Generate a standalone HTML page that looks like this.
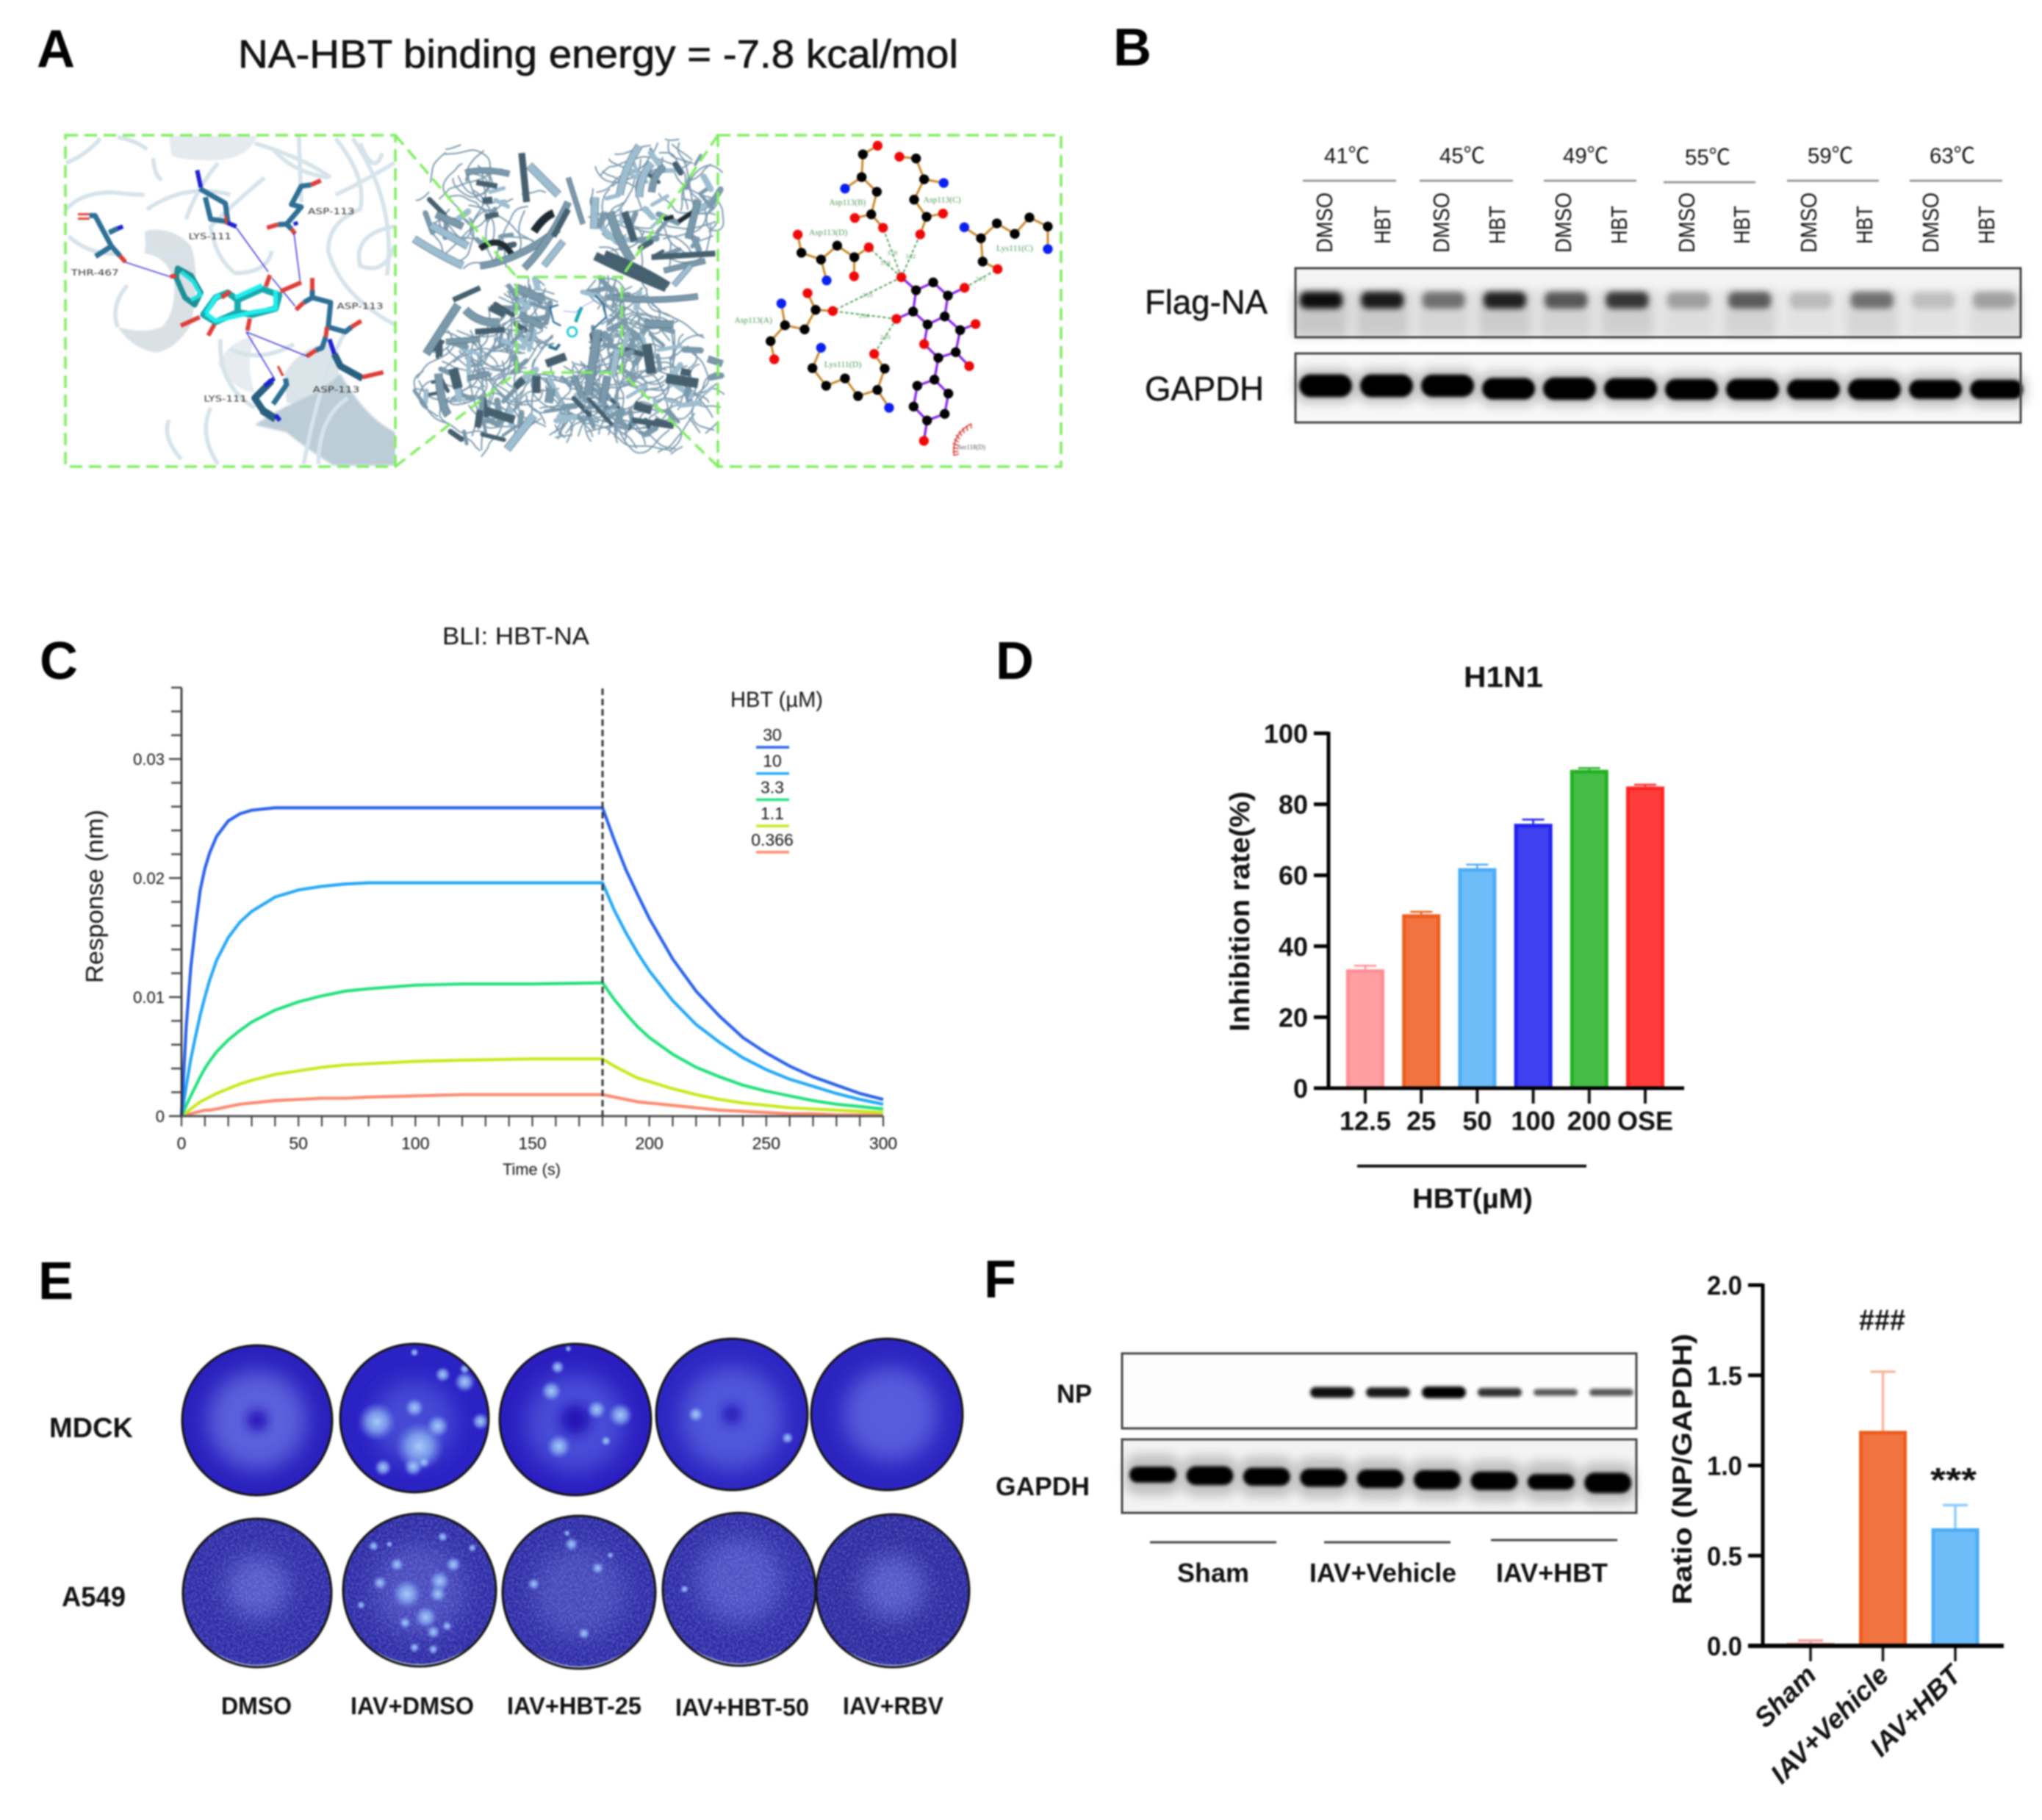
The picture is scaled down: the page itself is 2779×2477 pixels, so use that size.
<!DOCTYPE html>
<html lang="en">
<head>
<meta charset="utf-8">
<title>HBT neuraminidase figure</title>
<style>
html,body{margin:0;padding:0;background:#fff;width:2779px;height:2477px;overflow:hidden}
svg{display:block;filter:blur(1px)}
text{font-family:"Liberation Sans","Noto Sans CJK SC",sans-serif;fill:#111}
.letter{font-size:72px;font-weight:700;fill:#000}
.b{font-weight:700}
.lig{font-family:"Liberation Serif",serif;font-size:36px;fill:#4f9a58}
.dist{font-family:"Liberation Serif",serif;font-size:24px;fill:#5c9c64}
.res{font-family:"DejaVu Sans",sans-serif;font-size:34px;fill:#333}
</style>
</head>
<body>
<svg id="fig" xmlns="http://www.w3.org/2000/svg" width="2779" height="2477" viewBox="0 0 2779 2477">
<defs>
<filter id="b2" x="-30%" y="-60%" width="160%" height="220%"><feGaussianBlur stdDeviation="2"/></filter>
<filter id="b4" x="-30%" y="-80%" width="160%" height="260%"><feGaussianBlur stdDeviation="4"/></filter>
<filter id="b6" x="-30%" y="-80%" width="160%" height="260%"><feGaussianBlur stdDeviation="7"/></filter>
<filter id="b14" x="-40%" y="-40%" width="180%" height="180%"><feGaussianBlur stdDeviation="14"/></filter>
<filter id="noise" x="0" y="0" width="100%" height="100%"><feTurbulence type="fractalNoise" baseFrequency=".38" numOctaves="2" seed="3"/><feColorMatrix type="matrix" values="0 0 0 0 .55  0 0 0 0 .55  0 0 0 0 .95  0 0 0 1.6 -.62"/></filter>
<radialGradient id="spot"><stop offset="0" stop-color="#a8ccf8"/><stop offset=".5" stop-color="#86aaf0" stop-opacity=".8"/><stop offset="1" stop-color="#6e86e6" stop-opacity="0"/></radialGradient>
<clipPath id="leftClip"><rect x="89" y="184" width="449" height="451"/></clipPath>
</defs>

<g>
<text class="letter" x="50" y="91">A</text>
<text x="324" y="92" font-size="54" stroke="#111" stroke-width=".7" textLength="980" lengthAdjust="spacingAndGlyphs">NA-HBT binding energy = -7.8 kcal/mol</text>

<g id="leftInset" clip-path="url(#leftClip)">
<g transform="translate(80,175) scale(.33333)">
<path d="M450,30 H810 Q770,130 620,130 Q500,130 460,110Z" fill="#e4eaee" filter="url(#b2)"/>
<path d="M360,415 Q470,400 540,480 Q580,600 540,800 Q480,900 400,915 Q300,900 240,810 Q350,840 420,810 Q480,750 470,620 Q440,520 350,510 Z" fill="#dae1e5" filter="url(#b2)"/>
<path d="M920,1000 Q1000,880 1100,880 Q1170,1000 1130,1080 Q1000,1130 930,1120 Z" fill="#dbe4e9" filter="url(#b2)"/>
<path d="M650,960 Q700,860 800,850 Q760,960 800,1080 Q700,1060 650,960Z" fill="#e6ecef" filter="url(#b2)"/>
<path d="M800,1210 Q920,1130 1050,1080 Q1130,1020 1150,1000 Q1250,1180 1375,1240 V1375 H1120 Q1000,1300 930,1240Z" fill="#bccdd8" filter="url(#b4)"/>
<g fill="none" stroke="#d7e3eb" stroke-width="17">
<path d="M30,140 Q110,110 170,40"/><path d="M240,35 Q320,50 360,85"/><path d="M385,120 Q390,190 420,210"/><path d="M30,330 Q90,260 220,260 Q300,270 350,270"/><path d="M40,440 Q130,520 250,510"/><path d="M360,420 Q350,560 540,500"/><path d="M800,60 Q1000,120 1110,200"/><path d="M980,30 L990,300"/><path d="M1130,40 Q1260,200 1230,330 Q1100,380 1100,500 Q1150,680 1370,800"/><path d="M1370,140 Q1220,230 1130,270"/><path d="M1230,60 Q1290,200 1320,100"/><path d="M1370,400 Q1200,430 1230,560 Q1330,600 1370,480"/><path d="M840,200 Q720,300 620,400 Q640,530 720,590 Q850,590 870,500"/><path d="M360,330 Q520,220 700,270"/><path d="M650,140 Q560,250 520,370"/><path d="M1000,1370 Q1070,1000 1170,830"/><path d="M450,1190 Q420,1260 500,1350"/><path d="M620,1140 Q570,1250 650,1370"/><path d="M660,860 Q650,1050 800,1140"/><path d="M1060,1370 Q1060,1180 1180,1100"/><path d="M240,810 Q210,720 280,640"/><path d="M1200,40 Q1380,300 1340,600"/><path d="M880,90 Q960,180 1100,200"/><path d="M700,900 Q820,960 960,880"/>
</g>
<g fill="none" stroke="#2e6f95" stroke-width="21" stroke-linejoin="round">
<path d="M125,355 H148 L215,480 L150,522"/><path d="M205,425 L240,408"/><path d="M215,480 L250,520"/>
<path d="M575,245 L680,305 L690,380 L620,370 L598,280"/>
<path d="M1030,230 L990,235 L950,310 L990,320 L930,390 L895,392"/><path d="M930,390 L950,410"/>
<path d="M1035,660 V690 L1110,710 L1100,810 L1170,830 L1195,810"/><path d="M1035,690 L1000,710"/>
<path d="M1090,850 L1075,895 L1050,905"/><path d="M1125,920 L1150,970 L1240,1020" stroke-width="28" stroke="#28607f"/>
<path d="M925,1020 L930,1045 L875,1125"/><path d="M840,1160 L800,1100 L870,1030" stroke-width="28" stroke="#28607f"/><path d="M830,1150 L885,1185" stroke-width="32" stroke="#28607f"/>
</g>
<g fill="none" stroke="#dd3f3a" stroke-width="18">
<path d="M78,350 H125 M78,368 H125" stroke-width="9"/><path d="M250,520 L272,545"/><path d="M680,355 L685,392" stroke-width="10"/><path d="M1070,212 L1030,230"/><path d="M895,392 L850,405"/><path d="M950,410 L965,430"/><path d="M1035,610 V660"/><path d="M1000,710 L968,740"/><path d="M1195,810 L1235,785"/><path d="M1095,810 L1090,850"/><path d="M1050,905 L1012,930"/><path d="M1240,1015 L1325,995"/><path d="M895,970 L915,1010" stroke-width="10"/>
</g>
<g fill="none" stroke="#1f1fd2" stroke-width="18">
<path d="M565,170 L580,240"/><path d="M240,408 L262,400"/><path d="M690,385 L725,400"/><path d="M1105,860 L1125,920"/><path d="M880,1020 L840,1050"/><path d="M885,1170 L903,1192"/><path d="M965,380 L970,395"/>
</g>
<g fill="none" stroke="#3a30d8" stroke-width="4.5">
<path d="M270,545 L455,605"/><path d="M725,405 L855,585 M870,610 L965,725"/><path d="M960,425 L985,620"/><path d="M765,830 L1015,930"/><path d="M765,830 L880,1020"/>
</g>
<g fill="none" stroke-linejoin="round">
<path d="M485,570 L540,600 L580,670 L555,720 L515,690 L480,610Z" stroke="#1d8f95" stroke-width="22"/>
<path d="M500,585 L550,625 L580,680 L540,700" stroke="#22dede" stroke-width="16"/>
<path d="M590,760 L640,690 L690,670 L730,700 L730,750 L640,790Z" stroke="#18a9ac" stroke-width="26"/>
<path d="M730,700 L830,655 L900,680 L885,735 L790,760 L730,750Z" stroke="#18a9ac" stroke-width="26"/>
<path d="M600,755 L640,690 L660,680 M720,690 L830,640 M885,660 L885,735 L790,750 L640,785 L600,755" stroke="#22ecec" stroke-width="18"/>
<path d="M455,605 L480,600 M845,645 L862,598 M990,628 L905,665 M770,825 L780,775 M498,805 L575,770 M610,845 L635,800 M665,690 L700,665" stroke="#dd3f3a" stroke-width="18"/>
</g>
<text class="res" x="50" y="600" textLength="195" lengthAdjust="spacingAndGlyphs">THR-467</text>
<text class="res" x="530" y="452" textLength="175" lengthAdjust="spacingAndGlyphs">LYS-111</text>
<text class="res" x="1017" y="350" textLength="191" lengthAdjust="spacingAndGlyphs">ASP-113</text>
<text class="res" x="1135" y="737" textLength="190" lengthAdjust="spacingAndGlyphs">ASP-113</text>
<text class="res" x="1037" y="1077" textLength="191" lengthAdjust="spacingAndGlyphs">ASP-113</text>
<text class="res" x="592" y="1115" textLength="176" lengthAdjust="spacingAndGlyphs">LYS-111</text>
</g>
</g>

<g id="protein" transform="translate(540,175) scale(.33333)"></g>

<g id="ligplot" transform="translate(975,175) scale(.33333)">
<g fill="none" stroke="#4da058" stroke-width="6" stroke-dasharray="13 9">
<path d="M755,607 L622,485"/><path d="M755,607 L680,405"/><path d="M755,607 L832,432"/><path d="M755,607 L475,745"/><path d="M735,777 L475,745"/><path d="M735,777 L644,920"/><path d="M1013,650 L1148,574"/>
</g>
<g fill="none" stroke="#c8882c" stroke-width="9">
<path d="M658,70 L598,105 L593,198 L655,258 L632,350 L565,365 M632,350 L680,405 M593,198 L525,245"/>
<path d="M747,115 L815,122 L848,207 L807,290 L858,360 L925,347 M858,360 L832,432 M848,207 L928,222"/>
<path d="M332,433 L347,507 L427,535 L493,478 L563,525 L622,485 M563,525 L562,603 M427,535 L450,620"/>
<path d="M1012,403 L1080,448 L1145,387 L1218,430 L1278,363 L1353,400 L1353,492 M1080,448 L1087,543 L1148,574"/>
<path d="M265,714 L280,803 L360,820 L405,740 L372,672 M405,740 L475,745 M280,803 L221,868 L236,942"/>
<path d="M427,895 L392,978 L448,1050 L525,1020 L578,1092 L657,1067 L687,980 L644,920 M657,1067 L705,1140"/>
</g>
<g fill="none" stroke="#8a2be2" stroke-width="10">
<path d="M755,607 L815,660 L885,628 L945,682 L932,767 L862,800 L803,747 L815,660 M945,682 L1013,650 M803,747 L735,777 M932,767 L995,823 L1058,798 M995,823 L977,913 L1032,970 M977,913 L906,936 L848,880 L862,800 M906,936 L890,1025 L820,1050 L805,1135 L860,1192 L932,1165 L947,1082 L890,1025 M860,1192 L847,1275"/>
</g>
<g id="ligAtoms"></g>
<text class="lig" x="460" y="312" textLength="150" lengthAdjust="spacingAndGlyphs">Asp113(B)</text>
<text class="lig" x="845" y="302" textLength="153" lengthAdjust="spacingAndGlyphs">Asp113(C)</text>
<text class="lig" x="378" y="435" textLength="157" lengthAdjust="spacingAndGlyphs">Asp113(D)</text>
<text class="lig" x="1143" y="499" textLength="150" lengthAdjust="spacingAndGlyphs">Lys111(C)</text>
<text class="lig" x="73" y="794" textLength="155" lengthAdjust="spacingAndGlyphs">Asp113(A)</text>
<text class="lig" x="440" y="974" textLength="152" lengthAdjust="spacingAndGlyphs">Lys111(D)</text>
<text class="dist" x="697" y="516">3.28</text>
<text class="dist" x="772" y="530">3.22</text>
<text class="dist" x="668" y="556">3.04</text>
<text class="dist" x="596" y="688">3.10</text>
<text class="dist" x="582" y="772">2.84</text>
<text class="dist" x="668" y="860">2.93</text>
<text class="dist" x="1058" y="622">2.75</text>
<g fill="none" stroke="#d8413c" stroke-width="5">
<path d="M1040,1205 Q960,1250 970,1335"/>
<path d="M1040,1205 L1040,1225 M1022,1212 L1025,1235 M1005,1222 L1012,1244 M990,1235 L1002,1255 M978,1250 L994,1268 M970,1268 L990,1280 M965,1285 L988,1294 M965,1303 L988,1306 M965,1320 L988,1318 M968,1335 L990,1328"/>
</g>
<text x="985" y="1310" font-size="28" style="font-family:'Liberation Serif',serif;fill:#555" textLength="113" lengthAdjust="spacingAndGlyphs">Ser118(D)</text>
</g>

<g fill="none" stroke="#80ee60" stroke-width="3.5" stroke-dasharray="17 9">
<rect x="89" y="184" width="449" height="451"/>
<rect x="977" y="184" width="467" height="451"/>
<rect x="703" y="377" width="143" height="130"/>
<path d="M538,184 L703,377"/>
<path d="M538,635 L703,507"/>
<path d="M977,184 L846,377"/>
<path d="M977,635 L846,507"/>
</g>
</g>

<g id="panelB">
<text class="letter" x="1515" y="89">B</text>
<g fill="#222" font-size="30">
<text x="1802" y="222" textLength="62" lengthAdjust="spacingAndGlyphs">41℃</text>
<text x="1959" y="222" textLength="62" lengthAdjust="spacingAndGlyphs">45℃</text>
<text x="2127" y="222" textLength="62" lengthAdjust="spacingAndGlyphs">49℃</text>
<text x="2293" y="224" textLength="62" lengthAdjust="spacingAndGlyphs">55℃</text>
<text x="2460" y="222" textLength="62" lengthAdjust="spacingAndGlyphs">59℃</text>
<text x="2626" y="222" textLength="62" lengthAdjust="spacingAndGlyphs">63℃</text>
</g>
<g stroke="#999" stroke-width="3">
<path d="M1773,246 H1900 M1932,246 H2059 M2101,246 H2227 M2264,248 H2389 M2432,246 H2557 M2599,246 H2725"/>
</g>
<g id="bLaneLabels"></g>
<text x="1558" y="427" font-size="46" stroke="#111" stroke-width=".5" textLength="167" lengthAdjust="spacingAndGlyphs">Flag-NA</text>
<text x="1558" y="545" font-size="46" stroke="#111" stroke-width=".5" textLength="162" lengthAdjust="spacingAndGlyphs">GAPDH</text>
<rect x="1763" y="365" width="987" height="94" fill="#f4f4f4"/>
<g id="flagBands"></g>
<rect x="1763" y="365" width="987" height="94" fill="none" stroke="#444" stroke-width="3"/>
<rect x="1763" y="481" width="987" height="94" fill="#f7f7f7"/>
<g id="gapdhBandsB"></g>
<rect x="1763" y="481" width="987" height="94" fill="none" stroke="#444" stroke-width="3"/>
</g>

<g id="panelC">
<text class="letter" x="54" y="924">C</text>
<text x="602" y="877" font-size="33" textLength="200" lengthAdjust="spacingAndGlyphs">BLI: HBT-NA</text>
<text transform="translate(140,1338) rotate(-90)" font-size="33" textLength="236" lengthAdjust="spacingAndGlyphs" fill="#222">Response (nm)</text>
<text x="684" y="1599" font-size="22" textLength="79" lengthAdjust="spacingAndGlyphs">Time (s)</text>
<text x="994" y="962" font-size="30" textLength="126" lengthAdjust="spacingAndGlyphs">HBT (µM)</text>
</g>

<g id="panelD">
<text class="letter" x="1355" y="924">D</text>
<text class="b" x="1992" y="935" font-size="40" textLength="108" lengthAdjust="spacingAndGlyphs">H1N1</text>
<text class="b" transform="translate(1700,1404) rotate(-90)" font-size="38" textLength="327" lengthAdjust="spacingAndGlyphs">Inhibition rate(%)</text>
<path d="M1847,1587 H2159" stroke="#111" stroke-width="4"/>
<text class="b" x="1922" y="1644" font-size="38" textLength="164" lengthAdjust="spacingAndGlyphs">HBT(µM)</text>
</g>

<g id="panelE">
<text class="letter" x="52" y="1768">E</text>
<text class="b" x="67" y="1956" font-size="38" textLength="114" lengthAdjust="spacingAndGlyphs">MDCK</text>
<text class="b" x="84" y="2186" font-size="38" textLength="87" lengthAdjust="spacingAndGlyphs">A549</text>
<text class="b" x="301" y="2333" font-size="33" textLength="96" lengthAdjust="spacingAndGlyphs">DMSO</text>
<text class="b" x="477" y="2333" font-size="33" textLength="168" lengthAdjust="spacingAndGlyphs">IAV+DMSO</text>
<text class="b" x="690" y="2333" font-size="33" textLength="183" lengthAdjust="spacingAndGlyphs">IAV+HBT-25</text>
<text class="b" x="919" y="2335" font-size="33" textLength="182" lengthAdjust="spacingAndGlyphs">IAV+HBT-50</text>
<text class="b" x="1147" y="2333" font-size="33" textLength="137" lengthAdjust="spacingAndGlyphs">IAV+RBV</text>
<g id="plates"></g>
</g>

<g id="panelF">
<text class="letter" x="1339" y="1766">F</text>
<text class="b" x="1438" y="1909" font-size="35" textLength="48" lengthAdjust="spacingAndGlyphs">NP</text>
<text class="b" x="1355" y="2035" font-size="35" textLength="128" lengthAdjust="spacingAndGlyphs">GAPDH</text>
<rect x="1527" y="1842" width="700" height="102" fill="#fdfdfd"/>
<g id="npBands"></g>
<rect x="1527" y="1842" width="700" height="102" fill="none" stroke="#444" stroke-width="3"/>
<rect x="1527" y="1959" width="700" height="100" fill="#f3f3f3"/>
<g id="gapdhBandsF"></g>
<rect x="1527" y="1959" width="700" height="100" fill="none" stroke="#444" stroke-width="3"/>
<g stroke="#444" stroke-width="3"><path d="M1565,2099 H1737 M1802,2099 H1974 M2029,2096 H2201"/></g>
<text class="b" x="1602" y="2153" font-size="36" textLength="98" lengthAdjust="spacingAndGlyphs">Sham</text>
<text class="b" x="1782" y="2153" font-size="36" textLength="200" lengthAdjust="spacingAndGlyphs">IAV+Vehicle</text>
<text class="b" x="2036" y="2153" font-size="36" textLength="152" lengthAdjust="spacingAndGlyphs">IAV+HBT</text>
<text class="b" transform="translate(2302,2184) rotate(-90)" font-size="37" textLength="369" lengthAdjust="spacingAndGlyphs">Ratio (NP/GAPDH)</text>
<text class="b" x="2530" y="1810" font-size="40" textLength="63" lengthAdjust="spacingAndGlyphs">###</text>
<text class="b" x="2627" y="2030" font-size="46" textLength="63" lengthAdjust="spacingAndGlyphs">***</text>
</g>
</svg>

<script>
/* ---------- Panel C data ---------- */
const cTimes=[0,2,4,6,8,10,12,15,20,25,30,40,50,60,70,80,100,120,150,180,185,190,195,200,210,220,230,240,250,260,270,280,290,300];
const cSeries30=[0,.0075,.0125,.016,.019,.0208,.0221,.0235,.0248,.0254,.0257,.0259,.0259,.0259,.0259,.0259,.0259,.0259,.0259,.0259,.0232,.0207,.0186,.0166,.0132,.0105,.0084,.0066,.0053,.0042,.0033,.0026,.0019,.0014];
const cSeries10=[0,.0025,.0048,.0067,.0085,.0100,.0114,.0131,.0150,.0163,.0172,.0184,.0190,.0193,.0195,.0196,.0196,.0196,.0196,.0196,.0173,.0154,.0137,.0122,.0097,.0077,.0062,.0049,.0039,.0031,.0025,.0019,.0014,.0010];
const cSeries33=[0,.0009,.0017,.0025,.0033,.0040,.0046,.0054,.0064,.0072,.0079,.0089,.0096,.0101,.0105,.0107,.0110,.0111,.0111,.0112,.0098,.0086,.0075,.0066,.0052,.0041,.0033,.0026,.0021,.0017,.0013,.0010,.0008,.0006];
const cSeries11=[0,.0003,.0006,.0009,.0012,.0014,.0016,.0019,.0023,.0027,.0030,.0035,.0038,.0041,.0043,.0044,.0046,.0047,.0048,.0048,.0042,.0037,.0032,.0029,.0023,.0018,.0014,.0011,.0009,.0007,.0006,.0005,.0004,.0003];
const cSeries0366=[0,.0001,.0002,.0003,.0004,.0005,.0005,.0006,.0008,.0010,.0011,.0013,.0014,.0015,.0015,.0016,.0017,.0018,.0018,.0018,.0016,.0014,.0012,.0011,.0009,.0007,.0005,.0004,.0003,.0002,.0002,.0001,.0001,.0001];
const cLegendLabels=['30','10','3.3','1.1','0.366'];
const cYMajor=[0,.01,.02,.03];
const cYMajorLabels=['0','0.01','0.02','0.03'];
const cXMajor=[0,50,100,150,200,250,300];
const cAssocEnd=[180];

/* ---------- Panel D data ---------- */
const dCategories=['12.5','25','50','100','200','OSE'];
const dValues=[33.5,49,62,74.5,89.7,85];
const dErrors=[1,.7,1,1.2,.5,.5];
const dTicks=[0,20,40,60,80,100];

/* ---------- Panel F data ---------- */
const fCategories=['Sham','IAV+Vehicle','IAV+HBT'];
const fValues=[.015,1.19,.65];
const fErrors=[.015,.33,.13];
const fTicks=[0,.5,1,1.5,2];
const fTickLabels=['0.0','0.5','1.0','1.5','2.0'];

/* ---------- Blot band intensities ---------- */
const flagIntensity=[.98,.92,.5,.88,.62,.78,.3,.6,.18,.5,.16,.28];
const gapdhBIntensity=[1,1,.98,.94,.98,.92,.92,.92,.88,.92,.84,.84];
const npIntensity=[.92,.85,1,.72,.5,.52];
const gapdhFIntensity=[.78,.92,.88,.88,.9,.94,.9,.76,1];

const SVGNS='http://www.w3.org/2000/svg';
function mark(parent,tag,name,attrs){
  const node=document.createElementNS(SVGNS,tag);
  for(const k in attrs){node.setAttribute(k,attrs[k]);}
  
  
  parent.appendChild(node);
  return node;
}
function label(parent,name,str,attrs){
  const t=mark(parent,'text',name,attrs);
  t.textContent=str;
  return t;
}
const $=id=>document.getElementById(id);

/* ---------- Chart C ---------- */
(function(){
  const p=$('panelC');
  const xC=t=>247+t*(1202-247)/300;
  const yC=v=>1519-v*16200;
  const colors=['#2a62e8','#25a8f5','#22e07c','#c6ea1e','#fb8a6e'];
  const series=[cSeries30,cSeries10,cSeries33,cSeries11,cSeries0366];
  const names=['curve-30-um','curve-10-um','curve-3-3-um','curve-1-1-um','curve-0-366-um'];
  for(let i=4;i>=0;i--){
    const pts=cTimes.map((t,j)=>xC(t).toFixed(1)+','+yC(series[i][j]).toFixed(1)).join(' ');
    mark(p,'polyline',names[i],{points:pts,fill:'none',stroke:colors[i],'stroke-width':4.2,'stroke-linejoin':'round'});
  }
  mark(p,'line','y-axis',{x1:xC(0),x2:xC(0),y1:yC(.036),y2:yC(0),stroke:'#222','stroke-width':2.5});
  mark(p,'line','x-axis',{x1:xC(0),x2:xC(300),y1:yC(0),y2:yC(0),stroke:'#555','stroke-width':3});
  for(let k=0;k<=18;k++){
    const v=k*.002;
    mark(p,'line','y-tick',{x1:xC(0)-(k%5===0?17:14),x2:xC(0),y1:yC(v),y2:yC(v),stroke:'#444','stroke-width':2.5});
  }
  for(let t=0;t<=300;t+=10){
    mark(p,'line','x-tick',{x1:xC(t),x2:xC(t),y1:yC(0),y2:yC(0)+14,stroke:'#333','stroke-width':2});
  }
  cYMajor.forEach((v,i)=>{
    label(p,'y-tick-label',cYMajorLabels[i],{x:xC(0)-23,y:yC(v)+8,'font-size':22,'text-anchor':'end',fill:'#222'});
  });
  cXMajor.forEach(t=>{
    label(p,'x-tick-label',String(t),{x:xC(t),y:1564,'font-size':23,'text-anchor':'middle',fill:'#222'});
  });
  cAssocEnd.forEach(t=>{
    mark(p,'line','association-end-line',{x1:xC(t),x2:xC(t),y1:937,y2:yC(0),stroke:'#333','stroke-width':3,'stroke-dasharray':'9 5'});
  });
  cLegendLabels.forEach((s,i)=>{
    const y=1017+i*35.7;
    label(p,'legend-label',s,{x:1051,y:y-9,'font-size':23,'text-anchor':'middle',fill:'#222'});
    mark(p,'line','legend-swatch',{x1:1029,x2:1074,y1:y,y2:y,stroke:colors[i],'stroke-width':3.5});
  });
})();

/* ---------- Chart D ---------- */
(function(){
  const p=$('panelD');
  const xD=i=>1858+i*76.2;
  const yD=v=>1481-v*4.83;
  const fills=['#ff9ea3','#f07340','#6ebdf9','#4040f0','#46bd46','#ff3c3c'];
  const strokes=['#ff8e95','#ee5c1e','#4dadf5','#2222ee','#22b022','#ff2424'];
  const barW=47;
  dValues.forEach((v,i)=>{
    mark(p,'line','error-bar',{x1:xD(i),x2:xD(i),y1:yD(v),y2:yD(v+dErrors[i]),stroke:strokes[i],'stroke-width':2.5});
    mark(p,'line','error-cap',{x1:xD(i)-15,x2:xD(i)+15,y1:yD(v+dErrors[i]),y2:yD(v+dErrors[i]),stroke:strokes[i],'stroke-width':2.5});
    mark(p,'rect','bar-'+dCategories[i],{x:xD(i)-barW/2,y:yD(v)+2.5,width:barW,height:yD(0)-yD(v)-2.5,fill:fills[i],stroke:strokes[i],'stroke-width':5});
    mark(p,'line','x-tick',{x1:xD(i),x2:xD(i),y1:yD(0),y2:yD(0)+21,stroke:'#111','stroke-width':4});
    label(p,'x-tick-label',dCategories[i],{x:xD(i),y:1538,'font-size':36,'font-weight':700,'text-anchor':'middle'});
  });
  mark(p,'line','y-axis',{x1:1808,x2:1808,y1:yD(100)-2,y2:yD(0),stroke:'#000','stroke-width':5});
  mark(p,'line','x-axis',{x1:1788,x2:2292,y1:yD(0),y2:yD(0),stroke:'#000','stroke-width':5});
  dTicks.forEach(v=>{
    mark(p,'line','y-tick',{x1:1788,x2:1808,y1:yD(v),y2:yD(v),stroke:'#000','stroke-width':5});
    label(p,'y-tick-label',String(v),{x:1780,y:yD(v)+13,'font-size':36,'font-weight':700,'text-anchor':'end'});
  });
})();

/* ---------- Chart F ---------- */
(function(){
  const p=$('panelF');
  const xF=i=>2464+i*98.5;
  const yF=v=>2240-v*245.5;
  const fills=['#f4a5a5','#f07340','#6ebdf9'];
  const strokes=['#f09090','#ee5c1e','#4dadf5'];
  const errs=['#f4a0a0','#f8b79c','#8ccbfb'];
  const barW=60;
  fValues.forEach((v,i)=>{
    mark(p,'line','error-bar',{x1:xF(i),x2:xF(i),y1:yF(v),y2:yF(v+fErrors[i]),stroke:errs[i],'stroke-width':3.5});
    mark(p,'line','error-cap',{x1:xF(i)-17,x2:xF(i)+17,y1:yF(v+fErrors[i]),y2:yF(v+fErrors[i]),stroke:errs[i],'stroke-width':3.5});
    mark(p,'rect','bar-'+fCategories[i],{x:xF(i)-barW/2,y:yF(v)+2,width:barW,height:Math.max(yF(0)-yF(v)-2,1),fill:fills[i],stroke:strokes[i],'stroke-width':5});
    mark(p,'line','x-tick',{x1:xF(i),x2:xF(i),y1:yF(0),y2:yF(0)+21,stroke:'#111','stroke-width':3.5});
    label(p,'x-tick-label',fCategories[i],{transform:'translate('+(xF(i)+10)+',2282) rotate(-45)','font-size':37,'font-weight':700,'font-style':'italic','text-anchor':'end'});
  });
  mark(p,'line','y-axis',{x1:2399,x2:2399,y1:yF(2)-2,y2:yF(0),stroke:'#000','stroke-width':5});
  mark(p,'line','x-axis',{x1:2379,x2:2727,y1:yF(0),y2:yF(0),stroke:'#000','stroke-width':6});
  fTicks.forEach((v,i)=>{
    mark(p,'line','y-tick',{x1:2379,x2:2399,y1:yF(v),y2:yF(v),stroke:'#000','stroke-width':5});
    label(p,'y-tick-label',fTickLabels[i],{x:2371,y:yF(v)+13,'font-size':36,'font-weight':700,'text-anchor':'end',textLength:48,lengthAdjust:'spacingAndGlyphs'});
  });
})();

/* ---------- Blots ---------- */
(function(){
  /* panel B lane labels */
  const g=$('bLaneLabels');
  const dmsoX=[1799,1958,2124,2292,2458,2624];
  const hbtX=[1878,2034,2200,2367,2534,2700];
  dmsoX.forEach(x=>{
    label(g,'lane-label-dmso','DMSO',{transform:'translate('+(x+14)+',344) rotate(-90)','font-size':31,textLength:82,lengthAdjust:'spacingAndGlyphs',fill:'#444'});
  });
  hbtX.forEach(x=>{
    label(g,'lane-label-hbt','HBT',{transform:'translate('+(x+14)+',332) rotate(-90)','font-size':31,textLength:52,lengthAdjust:'spacingAndGlyphs',fill:'#444'});
  });

  const flag=$('flagBands');
  const laneB=i=>1798+i*83.3;
  flagIntensity.forEach((v,i)=>{
    const x=laneB(i);
    mark(flag,'rect','flag-smear',{x:x-38,y:395,width:76,height:64,fill:'#000',opacity:(.05+v*.13).toFixed(2),filter:'url(#b6)'});
    mark(flag,'rect','flag-band',{x:x-29,y:397,width:58,height:23,rx:9,fill:'#000',opacity:(v*.95).toFixed(2),filter:'url(#b4)'});
  });
  const gB=$('gapdhBandsB');
  gapdhBIntensity.forEach((v,i)=>{
    const x=1804+i*83;
    const cy=525+(i<3?0:i<6?4:5);
    mark(gB,'rect','gapdh-halo',{x:x-42,y:cy-24,width:84,height:48,rx:18,fill:'#000',opacity:.2,filter:'url(#b6)'});
    const h=31*v;
    mark(gB,'rect','gapdh-band',{x:x-36,y:cy-h/2,width:72,height:h,rx:h/2,fill:'#000',filter:'url(#b2)'});
  });
  const np=$('npBands');
  const laneNP=i=>1813+i*76;
  npIntensity.forEach((v,i)=>{
    const h=7+9*v*v;
    mark(np,'rect','np-band',{x:laneNP(i)-30,y:1895-h/2,width:60,height:h,rx:h/2,fill:'#000',opacity:(.3+.7*v).toFixed(2),filter:'url(#b2)'});
  });
  const gF=$('gapdhBandsF');
  const laneF=i=>1569+i*77.4;
  gapdhFIntensity.forEach((v,i)=>{
    const x=laneF(i);
    const cy=2007+i*1.4;
    mark(gF,'rect','gapdh-halo',{x:x-38,y:cy-28,width:76,height:56,rx:18,fill:'#000',opacity:.2,filter:'url(#b6)'});
    const h=28*v;
    mark(gF,'rect','gapdh-band',{x:x-32,y:cy-h/2,width:64,height:h,rx:h/2,fill:'#000',filter:'url(#b2)'});
  });
})();

/* ---------- LigPlot atoms ---------- */
(function(){
  const g=$('ligAtoms');
  const black=[[598,105],[593,198],[655,258],[632,350],[815,122],[848,207],[807,290],[858,360],[347,507],[427,535],[493,478],[563,525],[1080,448],[1145,387],[1218,430],[1278,363],[1353,400],[1087,543],[280,803],[360,820],[405,740],[221,868],[392,978],[448,1050],[525,1020],[578,1092],[657,1067],[687,980],[815,660],[885,628],[945,682],[932,767],[862,800],[803,747],[995,823],[977,913],[906,936],[890,1025],[820,1050],[805,1135],[860,1192],[932,1165],[947,1082]];
  const red=[[658,70],[565,365],[680,405],[747,115],[925,347],[832,432],[332,433],[622,485],[562,603],[1148,574],[372,672],[475,745],[236,942],[644,920],[755,607],[1013,650],[735,777],[1058,798],[1032,970],[848,880],[847,1275]];
  const blue=[[525,245],[928,222],[450,620],[1012,403],[1353,492],[265,714],[427,895],[705,1140]];
  black.forEach(a=>{mark(g,'circle','carbon-atom',{cx:a[0],cy:a[1],r:20,fill:'#000'});});
  red.forEach(a=>{mark(g,'circle','oxygen-atom',{cx:a[0],cy:a[1],r:20,fill:'#ee0808'});});
  blue.forEach(a=>{mark(g,'circle','nitrogen-atom',{cx:a[0],cy:a[1],r:20,fill:'#0a20f0'});});
})();

/* ---------- Protein cartoon (decorative ribbon illustration) ---------- */
(function(){
  const g=$('protein');
  let seed=424242;
  const rnd=()=>{seed=(seed*1103515245+12345)&0x7fffffff;return seed/0x7fffffff;};
  const lobes=[[340,310,290],[1060,300,300],[320,1060,280],[1060,1050,300],[540,760,170],[900,760,180],[730,1120,190]];
  const ok=(x,y)=>{
    if(Math.hypot(x-730,y-770)<95)return false;
    if(x<45||x>1370||y<30||y>1375)return false;
    if(Math.abs(x-745)<40&&(y<250||y>1290))return false;
    return lobes.some(l=>Math.hypot(x-l[0],y-l[1])<l[2]);
  };
  const coils=mark(g,'g','loop-coils',{fill:'none',stroke:'#7d9bae','stroke-width':6,'stroke-linecap':'round','stroke-linejoin':'round'});
  for(let n=0;n<300;n++){
    const l=lobes[Math.floor(rnd()*lobes.length)];
    const a0=rnd()*6.283,r0=Math.sqrt(rnd())*l[2];
    let x=l[0]+Math.cos(a0)*r0,y=l[1]+Math.sin(a0)*r0;
    if(!ok(x,y))continue;
    let a=rnd()*6.283;
    const pts=[[x,y]];
    for(let s=0;s<9;s++){
      a+=(rnd()-.35)*1.5;
      const st=24+rnd()*28,nx=x+Math.cos(a)*st,ny=y+Math.sin(a)*st;
      if(!ok(nx,ny))break;
      pts.push([nx,ny]);x=nx;y=ny;
    }
    if(pts.length<3)continue;
    let d='M'+pts[0][0].toFixed(0)+','+pts[0][1].toFixed(0);
    for(let s=1;s<pts.length-1;s++){
      const mx=(pts[s][0]+pts[s+1][0])/2,my=(pts[s][1]+pts[s+1][1])/2;
      d+=' Q'+pts[s][0].toFixed(0)+','+pts[s][1].toFixed(0)+' '+mx.toFixed(0)+','+my.toFixed(0);
    }
    mark(coils,'path','loop-coil',{d:d});
  }
  const L='#9dbdd0',M='#7a99ab',D='#46606f',V='#1f2a31';
  /* dense short helix-like blocks in the lower lobes and near the interface */
  const blocks=mark(g,'g','secondary-structure-blocks',{fill:'none'});
  const blockColors=[L,L,M,M,M,D];
  for(let n=0;n<170;n++){
    const l=lobes[[0,1,2,2,3,3,4,5,6][Math.floor(rnd()*9)]];
    const a0=rnd()*6.283,r0=Math.sqrt(rnd())*l[2]*.82;
    const x=l[0]+Math.cos(a0)*r0,y=l[1]+Math.sin(a0)*r0;
    if(!ok(x,y))continue;
    const a=rnd()*6.283,len=18+rnd()*28,w=12+rnd()*14;
    mark(blocks,'line','helix-block',{x1:x-Math.cos(a)*len,y1:y-Math.sin(a)*len,x2:x+Math.cos(a)*len,y2:y+Math.sin(a)*len,stroke:blockColors[Math.floor(rnd()*blockColors.length)],'stroke-width':w,'stroke-linecap':'round'});
  }
  const strands=[
   ['70,450 180,520 270,560',28,L],['140,395 220,440 290,480',28,L],['160,350 270,400',26,M],['325,220 410,235',18,D],['350,295 390,290',22,D],['360,360 415,350',18,D],
   ['510,100 530,300',24,D],['540,150 660,270',30,L],['560,420 600,360 640,345',30,V],['280,180 360,160 460,185',22,M],['340,490 420,430 470,515',22,V],['340,560 440,550 560,490 660,410',26,M],
   ['520,570 620,470 700,300',26,M],['600,560 680,460',24,L],['700,200 760,390',18,M],['640,440 700,330',20,D],
   ['910,270 930,160 990,70',28,L],['990,280 990,200 1040,140',28,L],['1040,260 1050,180 1090,160',26,M],['810,280 805,410',28,L],['870,340 900,450 960,540',32,M],['930,340 970,460',26,D],
   ['1090,370 1130,360',14,V],['1150,380 1210,340',16,V],['1230,290 1190,450',26,M],['810,520 950,590 1100,650',32,D],['850,510 1000,570 1110,640',24,D],['1040,525 1300,510',20,D],['1090,580 1260,540',20,M],['1130,640 1200,560',20,L],['880,690 1050,710 1230,685',22,M],['1010,795 1130,800',28,M],
   ['120,920 190,810 250,720',30,M],['230,700 340,650',18,D],['280,740 340,800 420,790',30,M],['170,1000 180,1130 210,1170',30,M],['230,980 250,1060',36,D],['360,1150 480,1190',30,D],['450,1310 560,1170',30,L],['490,650 600,700',30,M],['500,760 600,810',26,M],['320,830 440,820',20,D],['200,870 340,860',20,M],['290,1020 380,1000',18,M],
   ['780,1090 820,820',32,M],['860,1010 840,1120',28,M],['720,1010 760,1100',22,M],['780,1100 880,1210',12,D],['970,1130 1040,1150',32,D],['960,1190 1130,1215',20,D],['1020,880 1040,1000',36,D],['1100,1020 1230,1040',36,D],['1160,990 1200,1000',24,D],['1270,940 1330,960',24,M],['610,960 690,930',30,D],['490,1030 510,1050',44,D],['570,1010 570,1080',30,D],['630,1060 620,1120',30,M],['900,900 880,1010',26,L],['380,730 440,760',24,D],['340,1150 330,1220',24,D]
  ];
  const sg=mark(g,'g','beta-strands',{fill:'none'});
  const toPath=s=>{
    const p=s.split(' ');
    return p.length===3?'M'+p[0]+' Q'+p[1]+' '+p[2]:p.length===4?'M'+p[0]+' C'+p[1]+' '+p[2]+' '+p[3]:'M'+p.join(' L');
  };
  strands.forEach(s=>{
    mark(sg,'path','strand-edge',{d:toPath(s[0]),stroke:'#4d6a7a','stroke-width':s[1]+4});
    mark(sg,'path','beta-strand',{d:toPath(s[0]),stroke:s[2],'stroke-width':s[1]});
  });
  const lig=mark(g,'g','central-ligand',{fill:'none'});
  mark(lig,'polyline','site-residue-left',{points:'660,720 625,730 640,790 670,805',stroke:'#2e6f95','stroke-width':7});
  mark(lig,'polyline','site-residue-right',{points:'810,680 845,720 855,770 800,820',stroke:'#2e6f95','stroke-width':7});
  mark(lig,'polyline','site-residue-bottom',{points:'620,890 650,900 665,880',stroke:'#2e6f95','stroke-width':12});
  mark(lig,'polyline','ligand-body',{points:'730,790 745,750 755,730',stroke:'#18a9ac','stroke-width':14});
  mark(lig,'circle','ligand-ring',{cx:716,cy:830,r:19,stroke:'#1cc8d0','stroke-width':8});
  mark(lig,'polyline','site-bonds',{points:'680,745 730,750 770,720 810,700',stroke:'#6a60e0','stroke-width':2});
})();

/* ---------- Plaque plates ---------- */
(function(){
  const root=$('plates');
  const zx=x=>x*.8546, zy=y=>1690+y*.502;
  const plates=[
   {n:'mdck-dmso',cx:350,cy:1933,r:102,base:'#2a20bd',glow:['#5a60dc',.66,0,0],core:['#2a18ba',.14],s:[]},
   {n:'mdck-iav-dmso',cx:564,cy:1930,r:101,base:'#2b22c4',glow:['#4548d4',.55,0,5],core:null,s:[[600,488,22],[668,555,28],[660,450,11],[705,360,9],[740,380,12],[697,500,13],[765,487,10],[610,612,10],[658,610,11],[675,597,7],[660,300,5],[740,345,6]]},
   {n:'mdck-iav-hbt-25',cx:783,cy:1932,r:103,base:'#2a1ec0',glow:['#474cd6',.66,0,5],core:['#2714b8',.2],s:[[888,340,8],[878,405,12],[950,455,11],[988,470,14],[890,555,14],[965,540,6],[905,290,4]]},
   {n:'mdck-iav-hbt-50',cx:996,cy:1925,r:103,base:'#2d26c2',glow:['#5056da',.68,0,5],core:['#2c1abc',.13],s:[[1108,468,9],[1254,532,7]]},
   {n:'mdck-iav-rbv',cx:1207,cy:1925,r:103,base:'#2c24c0',glow:['#565cdc',.62,5,0],core:null,s:[]},
   {n:'a549-dmso',cx:350,cy:2168,r:101,base:'#2a28a4',glow:['#5156c8',.42,0,-8],rim:1,s:[]},
   {n:'a549-iav-dmso',cx:571,cy:2164,r:104,base:'#2a28a4',glow:['#4447bc',.6,0,0],rim:1,s:[[595,825,6],[705,800,6],[632,875,8],[722,875,9],[700,920,12],[605,925,8],[648,955,17],[697,955,10],[678,1018,13],[645,1033,7],[690,1058,8],[712,1042,6],[660,1100,6],[690,1105,6],[752,830,5],[575,985,5],[620,820,4]]},
   {n:'a549-iav-hbt-25',cx:788,cy:2167,r:104,base:'#2a28a4',glow:['#4044b8',.6,0,0],rim:1,s:[[910,820,8],[903,790,4],[952,885,7],[972,850,4],[850,928,7],[930,1062,7]]},
   {n:'a549-iav-hbt-50',cx:1006,cy:2163,r:104,base:'#2a28a4',glow:['#4a50c4',.55,0,-12],rim:1,s:[[1090,942,5]]},
   {n:'a549-iav-rbv',cx:1215,cy:2165,r:104,base:'#28269e',glow:['#4f54c6',.42,0,-5],rim:1,s:[]}
  ];
  const defs=document.querySelector('defs');
  plates.forEach((pl,i)=>{
    const cp=document.createElementNS(SVGNS,'clipPath');
    cp.id='plateClip'+i;
    const cc=document.createElementNS(SVGNS,'circle');
    cc.setAttribute('cx',pl.cx);cc.setAttribute('cy',pl.cy);cc.setAttribute('r',pl.r);
    cp.appendChild(cc);defs.appendChild(cp);
    const g=mark(root,'g','plate-'+pl.n,{'clip-path':'url(#plateClip'+i+')'});
    mark(g,'circle','plate-base',{cx:pl.cx,cy:pl.cy,r:pl.r,fill:pl.base});
    mark(g,'circle','plate-glow',{cx:pl.cx+pl.glow[2],cy:pl.cy+pl.glow[3],r:pl.r*pl.glow[1],fill:pl.glow[0],filter:'url(#b14)'});
    if(pl.core){mark(g,'circle','plate-dark-center',{cx:pl.cx,cy:pl.cy,r:pl.r*pl.core[1],fill:pl.core[0],filter:'url(#b6)'});}
    if(pl.rim){
      mark(g,'rect','plate-texture',{x:pl.cx-pl.r,y:pl.cy-pl.r,width:2*pl.r,height:2*pl.r,filter:'url(#noise)',opacity:.55});
      mark(g,'path','plate-rim',{d:'M'+(pl.cx-pl.r*.7)+','+(pl.cy+pl.r*.74)+' Q'+pl.cx+','+(pl.cy+pl.r*1.24)+' '+(pl.cx+pl.r*.7)+','+(pl.cy+pl.r*.74),fill:'none',stroke:'#b9c9f0','stroke-width':4});
    }
    pl.s.forEach(s=>{
      mark(g,'circle','plaque',{cx:zx(s[0]),cy:zy(s[1]),r:s[2]*1.2,fill:'url(#spot)'});
    });
    mark(root,'circle','plate-edge',{cx:pl.cx,cy:pl.cy,r:pl.r,fill:'none',stroke:'#151515','stroke-width':3});
  });
})();
</script>
</body>
</html>
